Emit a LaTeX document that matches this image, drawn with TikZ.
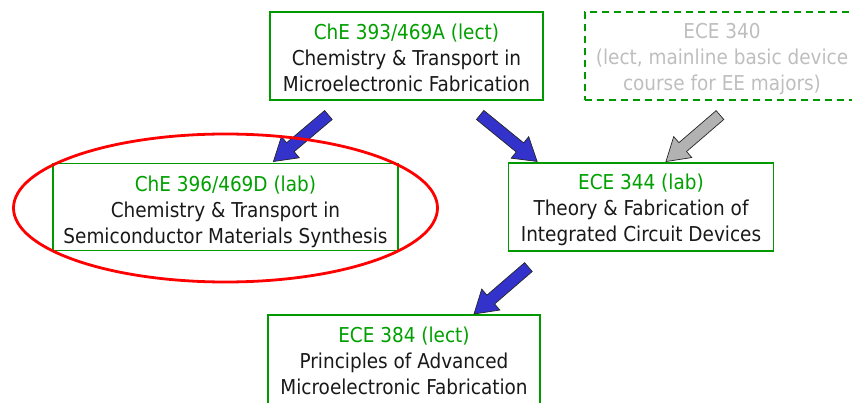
\documentclass[tikz,border=0pt]{standalone}
\usepackage{fontspec}
\setmainfont{DejaVu Sans Condensed}
\usetikzlibrary{shapes.arrows,calc}
\definecolor{boxgreen}{RGB}{0,153,0}
\definecolor{txtgreen}{RGB}{0,160,0}
\definecolor{lightgray}{RGB}{190,190,190}
\definecolor{arrowblue}{RGB}{51,51,204}
\definecolor{arrowgray}{RGB}{178,178,178}
\tikzset{
  coursebox/.style={draw=boxgreen, line width=1.8pt, inner sep=0pt},
  coursetext/.style={align=center, inner sep=0pt,
    font=\fontsize{20.5}{26}\selectfont, text=black!90},
  blockarrow/.style={single arrow, draw=black!85, line width=0.7pt, fill=#1,
    inner xsep=0pt, inner ysep=5.5pt, minimum width=0pt,
    single arrow head extend=8pt, single arrow tip angle=64,
    sloped, allow upside down, midway},
}
\newcommand{\connarrow}[3]{%
  \path let \p1=($(#3)-(#2)$), \n1={veclen(\x1,\y1)} in
    (#2) -- (#3) node[blockarrow=#1, minimum height=\n1] {};}
\begin{document}
\begin{tikzpicture}[x=1pt,y=-1pt]
\useasboundingbox (0,0) rectangle (852,403);
\node[coursebox, minimum width=273pt, minimum height=88pt] (top) at (406.5,56) {};
\node[coursetext] (toptxt) at ([yshift=-2pt]top.center)
  {\textcolor{txtgreen}{ChE 393/469A (lect)}\\Chemistry \& Transport in\\Microelectronic Fabrication};
\node[coursebox, dashed, dash pattern=on 7pt off 5pt, minimum width=274pt, minimum height=88pt] (ece340) at (722,56) {};
\node[coursetext, text=lightgray] (ece340txt) at ([yshift=-3pt]ece340.center)
  {ECE 340\\(lect, mainline basic device\\course for EE majors)};
\node[coursebox, minimum width=345pt, minimum height=87pt] (che396) at (225.5,207) {};
\node[coursetext] (che396txt) at ([yshift=-4.5pt]che396.center)
  {\textcolor{txtgreen}{ChE 396/469D (lab)}\\Chemistry \& Transport in\\Semiconductor Materials Synthesis};
\node[coursebox, minimum width=265pt, minimum height=88pt] (ece344) at (641,207) {};
\node[coursetext] (ece344txt) at ([yshift=-2.5pt]ece344.center)
  {\textcolor{txtgreen}{ECE 344 (lab)}\\Theory \& Fabrication of\\Integrated Circuit Devices};
\node[coursebox, minimum width=272pt, minimum height=90pt] (ece384) at (404,360) {};
\node[coursetext] (ece384txt) at ([yshift=-1pt]ece384.center)
  {\textcolor{txtgreen}{ECE 384 (lect)}\\Principles of Advanced\\Microelectronic Fabrication};
\coordinate (a1s) at (332,112);   \coordinate (a1e) at (277,158.5);
\coordinate (a2s) at (476.5,112); \coordinate (a2e) at (533.5,158.5);
\coordinate (a3s) at (723.5,112); \coordinate (a3e) at (669.5,158.5);
\coordinate (a4s) at (532,264);   \coordinate (a4e) at (477.5,311);
\connarrow{arrowblue}{a1s}{a1e}
\connarrow{arrowblue}{a2s}{a2e}
\connarrow{arrowgray}{a3s}{a3e}
\connarrow{arrowblue}{a4s}{a4e}
\draw[red, line width=2.8pt] (che396.center) ++(0,1) ellipse [x radius=212pt, y radius=74pt];
\end{tikzpicture}
\end{document}
